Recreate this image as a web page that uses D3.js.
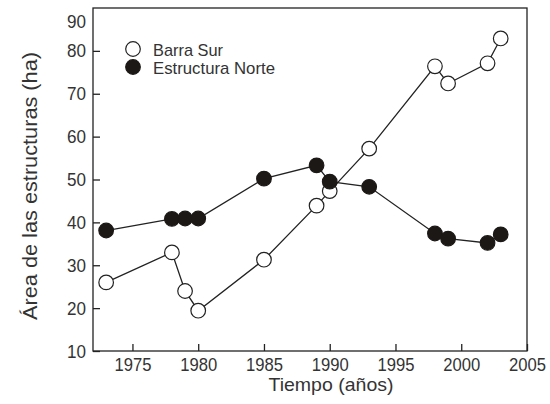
<!DOCTYPE html>
<html>
<head>
<meta charset="utf-8">
<script src="https://cdn.jsdelivr.net/npm/d3@7/dist/d3.min.js"></script>
<style>
  html, body { margin: 0; padding: 0; background: #fff; }
  svg text { font-family: "Liberation Sans", Arial, sans-serif; fill: #333; }
</style>
</head>
<body>
<svg id="chart" width="550" height="404"></svg>
<script>
const years = [1973, 1978, 1979, 1980, 1985, 1989, 1990, 1993, 1998, 1999, 2002, 2003];
const barraSur = [26, 33, 24, 19.4, 31.3, 43.9, 47.3, 57.2, 76.4, 72.4, 77.1, 82.9];
const estructuraNorte = [38.1, 40.8, 40.9, 40.9, 50.2, 53.3, 49.5, 48.3, 37.4, 36.2, 35.2, 37.2];
const xTicks = [1975, 1980, 1985, 1990, 1995, 2000, 2005];
const yTicks = [10, 20, 30, 40, 50, 60, 70, 80, 90];
const seriesNames = ["Barra Sur", "Estructura Norte"];

(function () {
const svg = d3.select("#chart");
const mLeft = 93, mRight = 527, mTop = 8, mBottom = 351;
const x = d3.scaleLinear().domain([1972, 2005]).range([mLeft, mRight]);
const y = d3.scaleLinear().domain([10, 90]).range([mBottom, mTop]);
const ink = "#222";
const txt = "#333";

function squeeze(sel, w) {
  sel.attr("textLength", w).attr("lengthAdjust", "spacingAndGlyphs");
}

// frame
svg.append("rect").attr("x", mLeft).attr("y", mTop)
  .attr("width", mRight - mLeft).attr("height", mBottom - mTop)
  .attr("fill", "none").attr("stroke", ink).attr("stroke-width", 1.3);

// x axis (ticks inward)
const xAxis = svg.append("g").attr("transform", `translate(0,${mBottom})`)
  .call(d3.axisBottom(x).tickValues(xTicks).tickFormat(d3.format("d")).tickSizeInner(-7).tickSizeOuter(0).tickPadding(7));
xAxis.select(".domain").remove();
xAxis.selectAll("line").attr("stroke", ink).attr("stroke-width", 1.3);
xAxis.selectAll("text").attr("font-size", 19).attr("fill", txt)
  .style("font-family", '"Liberation Sans", Arial, sans-serif')
  .attr("textLength", 37).attr("lengthAdjust", "spacingAndGlyphs");

// y axis (ticks inward)
const yAxis = svg.append("g").attr("transform", `translate(${mLeft},0)`)
  .call(d3.axisLeft(y).tickValues(yTicks).tickSizeInner(-7).tickSizeOuter(0).tickPadding(7));
yAxis.select(".domain").remove();
yAxis.selectAll("line").attr("stroke", ink).attr("stroke-width", 1.3);
yAxis.selectAll(".tick").filter(d => d === 90).select("line").remove();
yAxis.selectAll("text").attr("font-size", 19).attr("fill", txt)
  .style("font-family", '"Liberation Sans", Arial, sans-serif')
  .attr("textLength", 19).attr("lengthAdjust", "spacingAndGlyphs");
// top label sits just below the frame's top edge
yAxis.selectAll(".tick").filter(d => d === 90).select("text").attr("y", 13);

// axis titles
squeeze(svg.append("text").attr("x", 331).attr("y", 391).attr("text-anchor", "middle")
  .attr("font-size", 19).text("Tiempo (años)"), 125);
squeeze(svg.append("text").attr("transform", "translate(37,186) rotate(-90)").attr("text-anchor", "middle")
  .attr("font-size", 20).text("Área de las estructuras (ha)"), 268);

const line = d3.line().x((d, i) => x(years[i])).y(d => y(d));

function drawSeries(vals, filled) {
  svg.append("path").datum(vals).attr("d", line)
    .attr("fill", "none").attr("stroke", ink).attr("stroke-width", 1.3);
  svg.append("g").selectAll("circle").data(vals).join("circle")
    .attr("cx", (d, i) => x(years[i])).attr("cy", d => y(d))
    .attr("r", 7.3)
    .attr("fill", filled ? "#1c1816" : "#fff")
    .attr("stroke", filled ? "#1c1816" : ink).attr("stroke-width", 1.2);
}
drawSeries(barraSur, false);
drawSeries(estructuraNorte, true);

// legend
const leg = svg.append("g");
const legW = [70, 122];
[0, 1].forEach(i => {
  const cy = 49 + i * 18;
  leg.append("circle").attr("cx", 133).attr("cy", cy).attr("r", 7.3)
    .attr("fill", i ? "#1c1816" : "#fff").attr("stroke", i ? "#1c1816" : ink).attr("stroke-width", 1.2);
  squeeze(leg.append("text").attr("x", 153).attr("y", cy + 6.5).attr("font-size", 17).text(seriesNames[i]), legW[i]);
});
})();
</script>
</body>
</html>
